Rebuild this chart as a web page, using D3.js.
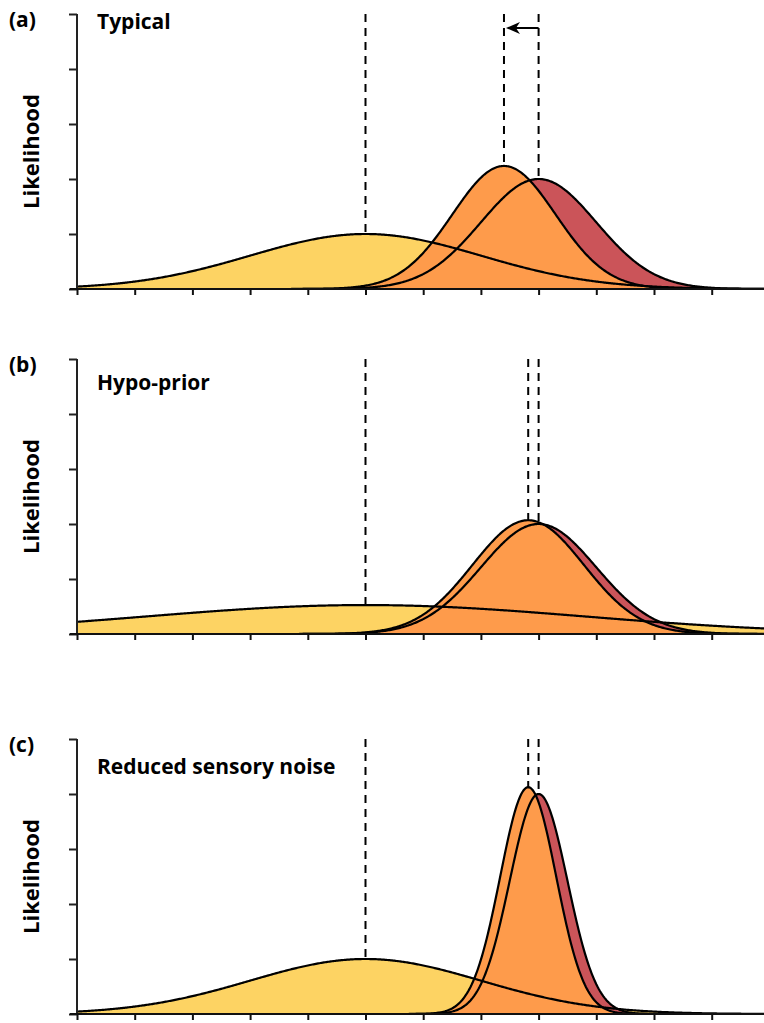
<!DOCTYPE html>
<html>
<head>
<meta charset="utf-8">
<script src="https://cdn.jsdelivr.net/npm/d3@7"></script>
<style>
  body { margin: 0; background: #fff; }
  text { font-family: "Open Sans", sans-serif; font-weight: bold; fill: #000; }
</style>
</head>
<body>
<svg width="764" height="1023"></svg>
<script>
// panel labels and titles
const panelTags = ["(a)", "(b)", "(c)"]
const panelTitles = ["Typical", "Hypo-prior", "Reduced sensory noise"]

// gaussian parameters (x in tick units)
const priorMean = [5, 5, 5]
const priorSd = [2, 3.8, 2]
const likeMean = [8, 8, 8]
const likeSd = [1, 1, 0.5]
const postMean = [7.4, 7.82, 7.82]
const postSd = [0.894, 0.967, 0.485]

const xTicks = d3.range(0, 12)
const yTicks = d3.range(0, 6)

const colors = { prior: "#FDD363", like: "#CB5459", post: "#FE9B4B" }

const svg = d3.select("svg")
const panelTops = [14, 359, 739]
const panelH = 275

const x = d3.scaleLinear().domain([0, 12]).range([77, 77 + 12 * 57.7])

const dens = (m, s) => (v) => (2 / s) * Math.exp(-((v - m) ** 2) / (2 * s * s))
const xs = d3.range(0, 12.01, 0.02)

panelTops.forEach((top, i) => {
  const y = d3.scaleLinear().domain([0, 5]).range([top + panelH, top])
  const g = svg.append("g")

  const curves = [
    { f: dens(priorMean[i], priorSd[i]), c: colors.prior },
    { f: dens(likeMean[i], likeSd[i]), c: colors.like },
    { f: dens(postMean[i], postSd[i]), c: colors.post }
  ]

  const area = (f) => d3.area().x((d) => x(d)).y0(y(0)).y1((d) => y(f(d)))
  const line = (f) => d3.line().x((d) => x(d)).y((d) => y(f(d)))

  curves.forEach((cv) => {
    g.append("path").datum(xs).attr("d", area(cv.f)).attr("fill", cv.c)
  })
  curves.forEach((cv) => {
    g.append("path").datum(xs).attr("d", line(cv.f))
      .attr("fill", "none").attr("stroke", "#000").attr("stroke-width", 2.2)
  })

  // dashed mean lines from top down to each peak
  const means = [
    [priorMean[i], dens(priorMean[i], priorSd[i])(priorMean[i])],
    [likeMean[i], dens(likeMean[i], likeSd[i])(likeMean[i])],
    [postMean[i], dens(postMean[i], postSd[i])(postMean[i])]
  ]
  means.forEach(([m, h]) => {
    g.append("line")
      .attr("x1", x(m)).attr("x2", x(m))
      .attr("y1", top).attr("y2", y(h))
      .attr("stroke", "#000").attr("stroke-width", 2)
      .attr("stroke-dasharray", "8,6")
  })

  if (i === 0) {
    const ay = top + 14
    const tip = x(postMean[i]) + 2
    g.append("line")
      .attr("x1", x(likeMean[i])).attr("x2", tip + 8)
      .attr("y1", ay).attr("y2", ay)
      .attr("stroke", "#000").attr("stroke-width", 2)
    g.append("path")
      .attr("d", `M${tip},${ay}L${tip + 14},${ay - 6}L${tip + 10},${ay}L${tip + 14},${ay + 6}Z`)
      .attr("fill", "#000")
  }

  // axes
  g.append("g")
    .attr("transform", "translate(77,0)")
    .call(d3.axisLeft(y).tickValues(yTicks).tickSize(8).tickFormat(""))
    .call((a) => a.select(".domain").attr("d", `M0,${top}V${top + panelH}`))
    .selectAll("line, path").attr("stroke", "#222").attr("stroke-width", 2)

  g.append("g")
    .attr("transform", `translate(0,${top + panelH})`)
    .call(d3.axisBottom(x).tickValues(xTicks).tickSize(6).tickFormat(""))
    .call((a) => a.select(".domain").attr("d", "M70,0H764"))
    .selectAll("line, path").attr("stroke", "#111").attr("stroke-width", 2)

  g.append("text").attr("x", 9).attr("y", top + 13).attr("font-size", 21).text(panelTags[i])
  g.append("text").attr("x", 97).attr("y", top + (i === 0 ? 15 : i === 1 ? 31 : 35))
    .attr("font-size", 21).text(panelTitles[i])
  g.append("text")
    .attr("transform", `translate(39,${top + panelH / 2}) rotate(-90)`)
    .attr("text-anchor", "middle").attr("font-size", 22).text("Likelihood")
})
</script>
</body>
</html>
